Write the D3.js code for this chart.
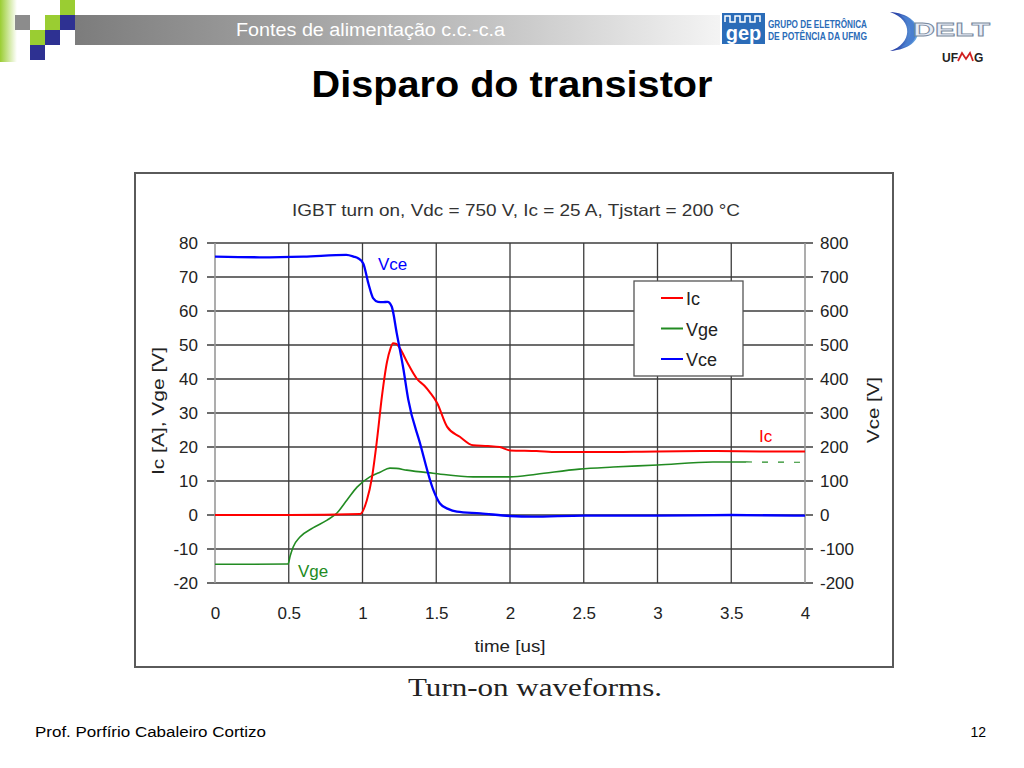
<!DOCTYPE html>
<html>
<head>
<meta charset="utf-8">
<script src="https://cdn.jsdelivr.net/npm/d3@7"></script>
<style>
  body { margin: 0; background: #fff; }
  svg { display: block; font-family: "Liberation Sans", Arial, sans-serif; }
</style>
</head>
<body>
<svg id="slide" width="1024" height="768"></svg>
<script>
// time axis [us] and tick labels
const X_TICKS = [0, 0.5, 1, 1.5, 2, 2.5, 3, 3.5, 4];
const LEFT_TICKS = [-20, -10, 0, 10, 20, 30, 40, 50, 60, 70, 80];
const RIGHT_TICKS = [-200, -100, 0, 100, 200, 300, 400, 500, 600, 700, 800];

// Ic [A] (left axis)
const IC_T = [0, 0.5, 0.983, 1.03, 1.064, 1.098, 1.132, 1.166, 1.19, 1.207, 1.23, 1.254, 1.302, 1.37, 1.42, 1.458, 1.505, 1.573, 1.66, 1.75, 1.85, 1.93, 2.0, 2.18, 2.32, 2.6, 3.0, 3.4, 3.7, 4.0];
const IC_V = [0, 0, 0.3, 4.4, 11, 22, 35, 45, 49, 50.5, 50.3, 49, 45, 40, 38, 36, 33, 26, 23, 20.5, 20.3, 20, 19, 18.8, 18.5, 18.5, 18.7, 18.8, 18.7, 18.7];

// Vge [V] (left axis), solid part
const VGE_T = [0, 0.25, 0.495, 0.51, 0.53, 0.576, 0.664, 0.76, 0.827, 0.895, 0.963, 1.05, 1.119, 1.186, 1.23, 1.30, 1.478, 1.75, 2.0, 2.18, 2.47, 2.70, 3.0, 3.376, 3.51, 3.6];
const VGE_V = [-14.5, -14.5, -14.4, -12, -9.4, -6.5, -3.8, -1.5, 0.6, 4.4, 8.2, 11.2, 12.6, 13.8, 13.7, 13.2, 12.3, 11.2, 11.2, 12, 13.5, 14.1, 14.7, 15.6, 15.6, 15.6];
// Vge tail drawn dashed
const VGE_TAIL_T = [3.6, 4.0];
const VGE_TAIL_V = [15.6, 15.5];

// Vce [V] (right axis)
const VCE_T = [0, 0.3, 0.6, 0.89, 0.94, 0.97, 1.005, 1.04, 1.073, 1.105, 1.14, 1.17, 1.198, 1.232, 1.277, 1.31, 1.39, 1.48, 1.525, 1.58, 1.64, 1.8, 2.0, 2.15, 2.5, 3.0, 3.5, 4.0];
const VCE_V = [760, 758, 760, 765, 760, 755, 740, 681, 637, 627, 626, 627, 613, 535, 430, 340, 211, 74, 34, 18, 10, 5, -3, -5, -2, -2, 0, -2];

const SERIES_NAMES = ['Ic', 'Vge', 'Vce'];
const SERIES_COLORS = ['#ff0000', '#228b22', '#0000ff'];

(function () {
  "use strict";

  const svg = d3.select('#slide');

  drawHeader();
  drawChart();
  drawFooter();

  function drawHeader() {
    const defs = svg.append('defs');

    let barGrad = defs.append('linearGradient').attr('id', 'barGrad');
    barGrad.append('stop').attr('offset', '0%').attr('stop-color', '#7c7c7c');
    barGrad.append('stop').attr('offset', '65%').attr('stop-color', '#c4c4c4');
    barGrad.append('stop').attr('offset', '100%').attr('stop-color', '#f4f4f4');

    let stripGrad = defs.append('linearGradient').attr('id', 'stripGrad');
    stripGrad.append('stop').attr('offset', '0%').attr('stop-color', '#9acd32');
    stripGrad.append('stop').attr('offset', '100%').attr('stop-color', '#ffffff');

    let crescGrad = defs.append('linearGradient').attr('id', 'crescGrad')
      .attr('x1', '0').attr('y1', '0').attr('x2', '1').attr('y2', '0');
    crescGrad.append('stop').attr('offset', '0%').attr('stop-color', '#1a2a9a');
    crescGrad.append('stop').attr('offset', '100%').attr('stop-color', '#6ab0e8');

    // gray band behind the header text
    svg.append('rect')
      .attr('x', 75).attr('y', 15).attr('width', 645).attr('height', 30)
      .attr('fill', 'url(#barGrad)');

    svg.append('rect')
      .attr('x', 0).attr('y', 0).attr('width', 17).attr('height', 62)
      .attr('fill', 'url(#stripGrad)');

    /*
     * little squares in the corner
     */
    const squares = [
      [60, 0, '#9acd32'],
      [15, 15, '#8c8c8c'], [45, 15, '#9acd32'], [60, 15, '#2e3192'],
      [30, 30, '#9acd32'], [45, 30, '#2e3192'],
      [30, 45, '#2e3192']
    ];
    svg.selectAll('rect.sq')
      .data(squares)
      .enter()
      .append('rect')
      .attr('class', 'sq')
      .attr('x', d => d[0]).attr('y', d => d[1])
      .attr('width', 15).attr('height', 15)
      .attr('fill', d => d[2]);

    svg.append('text')
      .attr('x', 236).attr('y', 36)
      .attr('font-size', 18)
      .attr('fill', '#ffffff')
      .attr('textLength', 269).attr('lengthAdjust', 'spacingAndGlyphs')
      .text('Fontes de alimentação c.c.-c.a');

    /*
     * gep logo
     */
    svg.append('rect')
      .attr('x', 722).attr('y', 13).attr('width', 43).attr('height', 31)
      .attr('fill', '#2b6cb8');
    svg.append('path')
      .attr('d', 'M725,22 V16 H730 V22 H735 V16 H740 V22 H745 V16 H750 V22 H755 V16 H760 V22')
      .attr('fill', 'none').attr('stroke', '#ffffff').attr('stroke-width', 1.5);
    svg.append('text')
      .attr('x', 743.5).attr('y', 40)
      .attr('text-anchor', 'middle')
      .attr('font-size', 20).attr('font-weight', 'bold')
      .attr('fill', '#ffffff')
      .text('gep');
    svg.append('text')
      .attr('x', 768).attr('y', 28)
      .attr('font-size', 10).attr('font-weight', 'bold')
      .attr('fill', '#2b6cb8')
      .attr('textLength', 99).attr('lengthAdjust', 'spacingAndGlyphs')
      .text('GRUPO DE ELETRÔNICA');
    svg.append('text')
      .attr('x', 768).attr('y', 40)
      .attr('font-size', 10).attr('font-weight', 'bold')
      .attr('fill', '#2b6cb8')
      .attr('textLength', 99).attr('lengthAdjust', 'spacingAndGlyphs')
      .text('DE POTÊNCIA DA UFMG');

    /*
     * DELT logo
     */
    svg.append('path')
      .attr('d', 'M890,12 C925,14 930,48 890,51 C912,44 914,20 890,12 Z')
      .attr('fill', 'url(#crescGrad)');
    svg.append('path')
      .attr('d', 'M900,15 C922,20 922,44 900,48 C914,40 914,24 900,15 Z')
      .attr('fill', '#4a7fd0');
    svg.append('text')
      .attr('x', 913).attr('y', 36)
      .attr('font-size', 19).attr('font-weight', 'bold')
      .attr('fill', '#e8eef8').attr('stroke', '#7a8aa0').attr('stroke-width', 0.8)
      .attr('textLength', 77).attr('lengthAdjust', 'spacingAndGlyphs')
      .text('DELT');
    svg.append('text')
      .attr('x', 942).attr('y', 62)
      .attr('font-size', 12).attr('font-weight', 'bold')
      .attr('fill', '#222')
      .text('UF');
    svg.append('path')
      .attr('d', 'M958,61 L962,53 L966,59 L970,53 L973,61')
      .attr('fill', 'none').attr('stroke', '#d02020').attr('stroke-width', 1.8);
    svg.append('text')
      .attr('x', 974).attr('y', 62)
      .attr('font-size', 12).attr('font-weight', 'bold')
      .attr('fill', '#222')
      .text('G');

    svg.append('text')
      .attr('x', 512).attr('y', 97)
      .attr('text-anchor', 'middle')
      .attr('font-size', 37).attr('font-weight', 'bold')
      .attr('fill', '#000')
      .attr('textLength', 401).attr('lengthAdjust', 'spacingAndGlyphs')
      .text('Disparo do transistor');
  }

  function drawChart() {
    const left = 215, right = 805, top = 243, bottom = 583;

    let x = d3.scaleLinear().domain([0, 4]).range([left, right]),
      yL = d3.scaleLinear().domain([-20, 80]).range([bottom, top]),
      yR = d3.scaleLinear().domain([-200, 800]).range([bottom, top]);

    // frame
    svg.append('rect')
      .attr('x', 135).attr('y', 173).attr('width', 758).attr('height', 494)
      .attr('fill', '#fff').attr('stroke', '#5a5a5a').attr('stroke-width', 2);

    svg.append('text')
      .attr('x', 516).attr('y', 216)
      .attr('text-anchor', 'middle')
      .attr('font-size', 17).attr('fill', '#333')
      .attr('textLength', 448).attr('lengthAdjust', 'spacingAndGlyphs')
      .text('IGBT turn on, Vdc = 750 V, Ic = 25 A, Tjstart = 200 °C');

    /*
     * grid
     */
    svg.append('g').selectAll('line')
      .data(LEFT_TICKS)
      .enter()
      .append('line')
      .attr('x1', left - 8).attr('x2', right + 8)
      .attr('y1', d => yL(d)).attr('y2', d => yL(d))
      .attr('stroke', '#3c3c3c').attr('stroke-width', 1.3);

    svg.append('g').selectAll('line')
      .data(X_TICKS.slice(1, -1))
      .enter()
      .append('line')
      .attr('x1', d => x(d)).attr('x2', d => x(d))
      .attr('y1', top).attr('y2', bottom)
      .attr('stroke', '#3c3c3c').attr('stroke-width', 1.3);

    [left, right].forEach(function (px) {
      svg.append('line')
        .attr('x1', px).attr('x2', px).attr('y1', top).attr('y2', bottom)
        .attr('stroke', '#999').attr('stroke-width', 1.6);
    });

    /*
     * axes (labels only, grid is drawn above)
     */
    const plain = d => String(d);
    let axL = svg.append('g')
      .attr('transform', 'translate(' + left + ',0)')
      .call(d3.axisLeft(yL).tickValues(LEFT_TICKS).tickSize(0).tickPadding(17).tickFormat(plain));
    let axR = svg.append('g')
      .attr('transform', 'translate(' + right + ',0)')
      .call(d3.axisRight(yR).tickValues(RIGHT_TICKS).tickSize(0).tickPadding(15).tickFormat(plain));
    let axB = svg.append('g')
      .attr('transform', 'translate(0,' + bottom + ')')
      .call(d3.axisBottom(x).tickValues(X_TICKS).tickSize(0).tickPadding(24).tickFormat(plain));

    [axL, axR, axB].forEach(function (g) {
      g.select('.domain').remove();
      g.selectAll('text')
        .attr('font-family', '"Liberation Sans", Arial, sans-serif')
        .attr('font-size', 17)
        .attr('fill', '#222');
    });

    svg.append('text')
      .attr('x', 510).attr('y', 652)
      .attr('text-anchor', 'middle')
      .attr('font-size', 17).attr('fill', '#222')
      .attr('textLength', 71).attr('lengthAdjust', 'spacingAndGlyphs')
      .text('time [us]');

    svg.append('text')
      .attr('transform', 'translate(164,411) rotate(-90)')
      .attr('text-anchor', 'middle')
      .attr('font-size', 17).attr('fill', '#222')
      .attr('textLength', 128).attr('lengthAdjust', 'spacingAndGlyphs')
      .text('Ic [A], Vge [V]');

    svg.append('text')
      .attr('transform', 'translate(879,410) rotate(-90)')
      .attr('text-anchor', 'middle')
      .attr('font-size', 17).attr('fill', '#222')
      .attr('textLength', 66).attr('lengthAdjust', 'spacingAndGlyphs')
      .text('Vce [V]');

    /*
     * waveforms
     */
    let lineL = d3.line()
      .x(d => x(d[0])).y(d => yL(d[1]))
      .curve(d3.curveMonotoneX);
    let lineR = d3.line()
      .x(d => x(d[0])).y(d => yR(d[1]))
      .curve(d3.curveMonotoneX);

    const zip = (a, b) => a.map((t, i) => [t, b[i]]);

    svg.append('path')
      .datum(zip(VGE_T, VGE_V))
      .attr('d', lineL)
      .attr('fill', 'none').attr('stroke', SERIES_COLORS[1]).attr('stroke-width', 1.6);
    svg.append('path')
      .datum(zip(VGE_TAIL_T, VGE_TAIL_V))
      .attr('d', lineL)
      .attr('fill', 'none').attr('stroke', SERIES_COLORS[1]).attr('stroke-width', 1.2)
      .attr('stroke-dasharray', '6,10');

    svg.append('path')
      .datum(zip(IC_T, IC_V))
      .attr('d', lineL)
      .attr('fill', 'none').attr('stroke', SERIES_COLORS[0]).attr('stroke-width', 2);

    svg.append('path')
      .datum(zip(VCE_T, VCE_V))
      .attr('d', lineR)
      .attr('fill', 'none').attr('stroke', SERIES_COLORS[2]).attr('stroke-width', 2.3);

    // in-plot series labels
    svg.append('text')
      .attr('x', 378).attr('y', 270)
      .attr('font-size', 17).attr('fill', SERIES_COLORS[2])
      .text('Vce');
    svg.append('text')
      .attr('x', 759).attr('y', 442)
      .attr('font-size', 17).attr('fill', SERIES_COLORS[0])
      .text('Ic');
    svg.append('text')
      .attr('x', 298).attr('y', 577)
      .attr('font-size', 17).attr('fill', SERIES_COLORS[1])
      .text('Vge');

    /*
     * legend
     */
    let legend = svg.append('g').attr('transform', 'translate(634,281)');
    legend.append('rect')
      .attr('width', 109).attr('height', 95)
      .attr('fill', '#fff').attr('stroke', '#555').attr('stroke-width', 1.3);

    let items = legend.selectAll('g.item')
      .data(SERIES_NAMES)
      .enter()
      .append('g')
      .attr('class', 'item')
      .attr('transform', (d, i) => 'translate(0,' + (17 + i * 30.5) + ')');
    items.append('line')
      .attr('x1', 27).attr('x2', 49)
      .attr('stroke', (d, i) => SERIES_COLORS[i]).attr('stroke-width', 2);
    items.append('text')
      .attr('x', 52).attr('y', 7)
      .attr('font-size', 18).attr('fill', '#222')
      .text(d => d);

    svg.append('text')
      .attr('x', 535).attr('y', 696)
      .attr('text-anchor', 'middle')
      .attr('font-family', '"Liberation Serif", "Times New Roman", serif')
      .attr('font-size', 25).attr('fill', '#222')
      .attr('textLength', 254).attr('lengthAdjust', 'spacingAndGlyphs')
      .text('Turn-on waveforms.');
  }

  function drawFooter() {
    svg.append('text')
      .attr('x', 35).attr('y', 737)
      .attr('font-size', 14).attr('fill', '#000')
      .attr('textLength', 231).attr('lengthAdjust', 'spacingAndGlyphs')
      .text('Prof. Porfírio Cabaleiro Cortizo');
    svg.append('text')
      .attr('x', 986).attr('y', 737)
      .attr('text-anchor', 'end')
      .attr('font-size', 14).attr('fill', '#000')
      .text('12');
  }
}());
</script>
</body>
</html>
